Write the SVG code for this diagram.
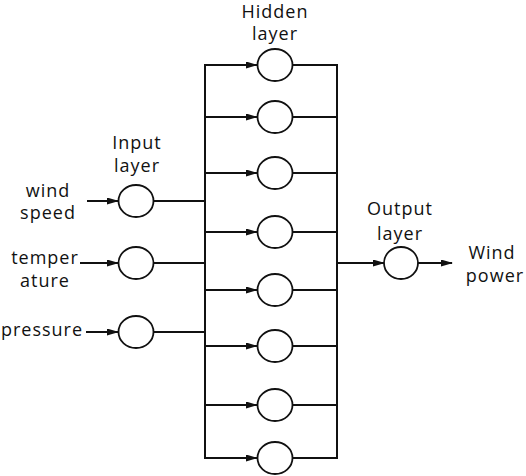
<svg xmlns="http://www.w3.org/2000/svg" width="526" height="476" viewBox="0 0 526 476">
<style>
.t{font-family:"Open Sans","Noto Sans","DejaVu Sans",sans-serif;font-size:18px;letter-spacing:1px;fill:#111;text-anchor:middle}
.n{fill:#fff;stroke:#111;stroke-width:1.8}
.c{stroke:#111;stroke-width:2;fill:none}
</style>
<defs>
<marker id="ah" markerUnits="userSpaceOnUse" markerWidth="12" markerHeight="8" refX="11" refY="3.5" orient="auto">
<path d="M0,0 L12,3.5 L0,7 z" fill="#111"/>
</marker>
</defs>
<g id="connectors">
<line class="c" x1="87" y1="201" x2="118" y2="201" marker-end="url(#ah)"/>
<line class="c" x1="80" y1="263" x2="118" y2="263" marker-end="url(#ah)"/>
<line class="c" x1="86" y1="332" x2="118" y2="332" marker-end="url(#ah)"/>
<line class="c" x1="154" y1="201" x2="205" y2="201"/>
<line class="c" x1="154" y1="263" x2="205" y2="263"/>
<line class="c" x1="154" y1="332" x2="205" y2="332"/>
<line class="c" x1="205" y1="64" x2="205" y2="459"/>
<line class="c" x1="205" y1="65" x2="257" y2="65" marker-end="url(#ah)"/>
<line class="c" x1="205" y1="117" x2="257" y2="117" marker-end="url(#ah)"/>
<line class="c" x1="205" y1="173" x2="257" y2="173" marker-end="url(#ah)"/>
<line class="c" x1="205" y1="232" x2="257" y2="232" marker-end="url(#ah)"/>
<line class="c" x1="205" y1="290" x2="257" y2="290" marker-end="url(#ah)"/>
<line class="c" x1="205" y1="346" x2="257" y2="346" marker-end="url(#ah)"/>
<line class="c" x1="205" y1="405" x2="257" y2="405" marker-end="url(#ah)"/>
<line class="c" x1="205" y1="458" x2="257" y2="458" marker-end="url(#ah)"/>
<line class="c" x1="293" y1="65" x2="337" y2="65"/>
<line class="c" x1="293" y1="117" x2="337" y2="117"/>
<line class="c" x1="293" y1="173" x2="337" y2="173"/>
<line class="c" x1="293" y1="232" x2="337" y2="232"/>
<line class="c" x1="293" y1="290" x2="337" y2="290"/>
<line class="c" x1="293" y1="346" x2="337" y2="346"/>
<line class="c" x1="293" y1="405" x2="337" y2="405"/>
<line class="c" x1="293" y1="458" x2="337" y2="458"/>
<line class="c" x1="337" y1="64" x2="337" y2="459"/>
<line class="c" x1="337" y1="263" x2="384" y2="263" marker-end="url(#ah)"/>
<line class="c" x1="418" y1="263" x2="452" y2="263" marker-end="url(#ah)"/>
</g>
<g id="input-wind"><ellipse class="n" cx="136" cy="201" rx="17.5" ry="16"/></g>
<g id="input-temperature"><ellipse class="n" cx="136" cy="263" rx="17.5" ry="16"/></g>
<g id="input-pressure"><ellipse class="n" cx="136" cy="332" rx="17.5" ry="16"/></g>
<g id="hidden-1"><ellipse class="n" cx="275" cy="65" rx="17.5" ry="16"/></g>
<g id="hidden-2"><ellipse class="n" cx="275" cy="117" rx="17.5" ry="16"/></g>
<g id="hidden-3"><ellipse class="n" cx="275" cy="173" rx="17.5" ry="16"/></g>
<g id="hidden-4"><ellipse class="n" cx="275" cy="232" rx="17.5" ry="16"/></g>
<g id="hidden-5"><ellipse class="n" cx="275" cy="290" rx="17.5" ry="16"/></g>
<g id="hidden-6"><ellipse class="n" cx="275" cy="346" rx="17.5" ry="16"/></g>
<g id="hidden-7"><ellipse class="n" cx="275" cy="405" rx="17.5" ry="16"/></g>
<g id="hidden-8"><ellipse class="n" cx="275" cy="458" rx="17.5" ry="16"/></g>
<g id="output"><ellipse class="n" cx="401" cy="263" rx="17" ry="16"/></g>
<g id="labels">
<text class="t" x="275" y="18">Hidden</text>
<text class="t" x="275" y="40">layer</text>
<text class="t" x="137" y="149">Input</text>
<text class="t" x="137" y="172">layer</text>
<text class="t" x="48" y="197">wind</text>
<text class="t" x="48" y="219">speed</text>
<text class="t" x="45" y="264">temper</text>
<text class="t" x="45" y="287">ature</text>
<text class="t" x="42" y="336">pressure</text>
<text class="t" x="400" y="215">Output</text>
<text class="t" x="400" y="240">layer</text>
<text class="t" x="492" y="259">Wind</text>
<text class="t" x="495" y="282">power</text>
</g>
</svg>
